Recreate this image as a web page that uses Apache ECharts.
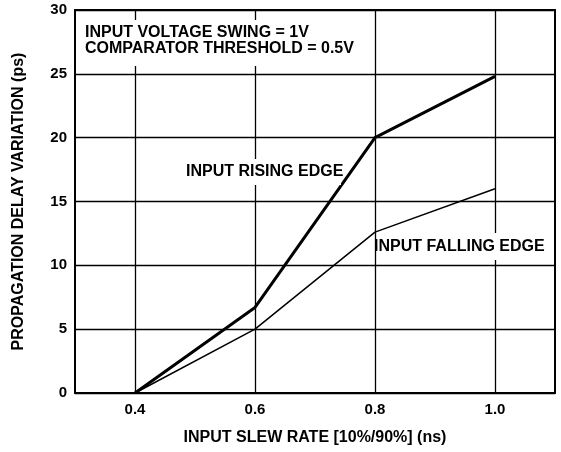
<!DOCTYPE html>
<html>
<head>
<meta charset="utf-8">
<script src="https://cdn.jsdelivr.net/npm/echarts@6/dist/echarts.min.js"></script>
<style>
html,body{margin:0;padding:0;background:#fff;}
#chart{width:561px;height:452px;}
</style>
</head>
<body>
<div id="chart"></div>
<script>
// Data
var slewRate = [0.4, 0.6, 0.8, 1.0];
var risingEdge = [0, 6.7, 20, 24.8];
var fallingEdge = [0, 5, 12.6, 16];
var xTicks = [0.4, 0.6, 0.8, 1.0];
var yTicks = [0, 5, 10, 15, 20, 25, 30];

var FONT = '"Liberation Sans", Arial, Helvetica, sans-serif';

function pairs(xs, ys) { return xs.map(function (x, i) { return [x, ys[i]]; }); }

var chart = echarts.init(document.getElementById('chart'), null, {renderer: 'canvas'});
var option = {
  animation: false,
  backgroundColor: '#fff',
  grid: {
    left: 75, top: 10, width: 480, height: 383,
    show: true, borderColor: '#000', borderWidth: 2, backgroundColor: 'transparent'
  },
  xAxis: {
    type: 'value', min: 0.3, max: 1.1,
    name: 'INPUT SLEW RATE [10%/90%] (ns)',
    nameLocation: 'middle', nameGap: 37,
    nameTextStyle: {fontFamily: FONT, fontWeight: 'bold', fontSize: 16, color: '#000'},
    axisLine: {show: true, lineStyle: {color: '#000', width: 2}},
    axisTick: {show: false},
    splitLine: {show: false},
    axisLabel: {
      customValues: xTicks,
      formatter: function (v) { return v.toFixed(1); },
      fontFamily: FONT, fontWeight: 'bold', fontSize: 15, color: '#000', margin: 9
    }
  },
  yAxis: {
    type: 'value', min: 0, max: 30, interval: 5,
    name: 'PROPAGATION DELAY VARIATION (ps)',
    nameLocation: 'middle', nameGap: 48,
    nameTextStyle: {fontFamily: FONT, fontWeight: 'bold', fontSize: 16, color: '#000'},
    axisLine: {show: true, lineStyle: {color: '#000', width: 2}},
    axisTick: {show: false},
    splitLine: {show: true, lineStyle: {color: '#000', width: 1.3}},
    axisLabel: {fontFamily: FONT, fontWeight: 'bold', fontSize: 15, color: '#000', margin: 8}
  },
  series: [
    {
      name: 'INPUT RISING EDGE', type: 'line', data: pairs(slewRate, risingEdge),
      symbol: 'none', lineStyle: {color: '#000', width: 3}, z: 3,
      markLine: {
        silent: true, symbol: 'none', z: 1,
        label: {show: false},
        lineStyle: {color: '#000', width: 1.3, type: 'solid'},
        data: xTicks.map(function (v) { return {xAxis: v}; })
      }
    },
    {
      name: 'INPUT FALLING EDGE', type: 'line', data: pairs(slewRate, fallingEdge),
      symbol: 'none', lineStyle: {color: '#000', width: 1.5}, z: 3
    }
  ],
  graphic: [
    {type: 'rect', z: 10, shape: {x: 80, y: 20, width: 278, height: 46}, style: {fill: '#fff'}},
    {type: 'text', z: 11, x: 85, y: 25.25, style: {text: 'INPUT VOLTAGE SWING = 1V\nCOMPARATOR THRESHOLD = 0.5V', font: 'bold 16px ' + FONT, fill: '#000', verticalAlign: 'top', lineHeight: 15.5}},
    {type: 'rect', z: 10, shape: {x: 181, y: 159, width: 160, height: 26}, style: {fill: '#fff'}},
    {type: 'text', z: 11, x: 186, y: 172, style: {text: 'INPUT RISING EDGE', font: 'bold 16px ' + FONT, fill: '#000', verticalAlign: 'middle'}},
    {type: 'rect', z: 10, shape: {x: 377, y: 233, width: 172, height: 27}, style: {fill: '#fff'}},
    {type: 'text', z: 11, x: 374, y: 246.5, style: {text: 'INPUT FALLING EDGE', font: 'bold 16px ' + FONT, fill: '#000', verticalAlign: 'middle'}}
  ]
};
chart.setOption(option);
</script>
</body>
</html>
